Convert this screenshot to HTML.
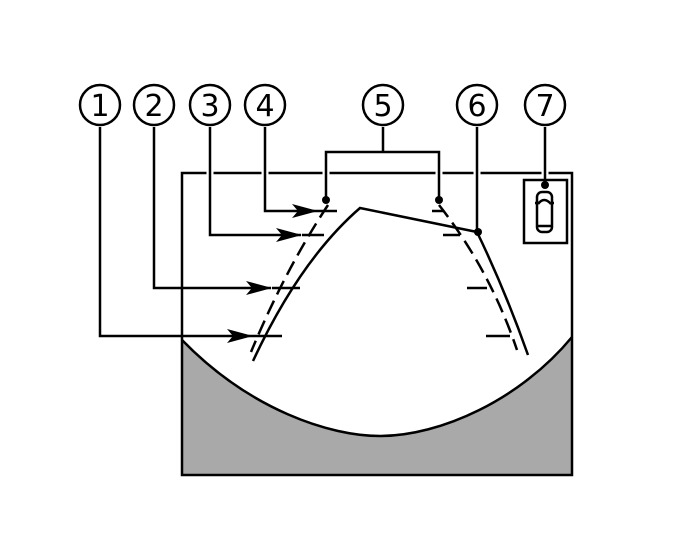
<!DOCTYPE html>
<html><head><style>body{margin:0;background:#fff}svg{display:block}</style></head><body>
<svg width="686" height="556" viewBox="0 0 686 556" xmlns="http://www.w3.org/2000/svg">
<defs><marker id="a" markerWidth="26" markerHeight="14" refX="25" refY="7" orient="auto" markerUnits="userSpaceOnUse"><path d="M0,0 L26,7 L0,14 L6,7 Z" fill="#000"/></marker></defs>
<path d="M182,340 C250,410 330,436 380,436 C440,436 520,400 572,337 L572,475 L182,475 Z" fill="#a9a9a9" stroke="none"/>
<path d="M182,340 C250,410 330,436 380,436 C440,436 520,400 572,337" fill="none" stroke="#000" stroke-width="2.5"/>
<rect x="182" y="173" width="390" height="302" fill="none" stroke="#000" stroke-width="2.5"/>
<g stroke="#000" stroke-width="2.5" fill="none">
<g stroke="#fff" stroke-width="7">
<line x1="100" y1="167" x2="100" y2="179"/><line x1="154" y1="167" x2="154" y2="179"/><line x1="210" y1="167" x2="210" y2="179"/><line x1="265" y1="167" x2="265" y2="179"/><line x1="326" y1="167" x2="326" y2="179"/><line x1="439" y1="167" x2="439" y2="179"/><line x1="477" y1="167" x2="477" y2="179"/><line x1="545" y1="167" x2="545" y2="179"/>
</g>
<path d="M100,127 V336 H252" marker-end="url(#a)"/>
<path d="M154,127 V288 H271" marker-end="url(#a)"/>
<path d="M210,127 V235 H301" marker-end="url(#a)"/>
<path d="M265,127 V211 H317" marker-end="url(#a)"/>
<path d="M383,127 V152 M326,200 V152 H439 V200"/>
<path d="M477,127 V233"/>
<path d="M545,127 V185"/>
<path d="M252,336 H282 M272,288 H300 M302,235 H324 M317,211 H337"/>
<path d="M432,211 H444 M443,235 H460 M467,288 H487 M486,336 H510"/>
<path d="M253,361 Q300,260 360,208 L477,232 Q505,290 528,355"/>
<path d="M328,205 Q285,270 251,352" stroke-dasharray="15,7"/>
<path d="M439,205 Q490,270 517,350" stroke-dasharray="15,7"/>
<rect x="524" y="180" width="43" height="63"/>
<rect x="537" y="192" width="15" height="40" rx="5"/>
<path d="M538,204 Q544,196 551,204 M535,203 H537 M552,203 H554 M538,226 H551"/>
</g>
<g fill="#000"><circle cx="326" cy="200" r="4"/><circle cx="439" cy="200" r="4"/><circle cx="478" cy="232" r="4"/><circle cx="545" cy="185" r="4"/></g>
<g fill="#fff" stroke="#000" stroke-width="2.5">
<circle cx="100" cy="105" r="20"/><circle cx="154" cy="105" r="20"/><circle cx="210" cy="105" r="20"/><circle cx="265" cy="105" r="20"/><circle cx="383" cy="105" r="20"/><circle cx="477" cy="105" r="20"/><circle cx="545" cy="105" r="20"/>
</g>
<g font-family="DejaVu Sans, sans-serif" font-size="30" text-anchor="middle" fill="#000">
<text x="100" y="116">1</text><text x="154" y="116">2</text><text x="210" y="116">3</text><text x="265" y="116">4</text><text x="383" y="116">5</text><text x="477" y="116">6</text><text x="545" y="116">7</text>
</g>
</svg>
</body></html>
